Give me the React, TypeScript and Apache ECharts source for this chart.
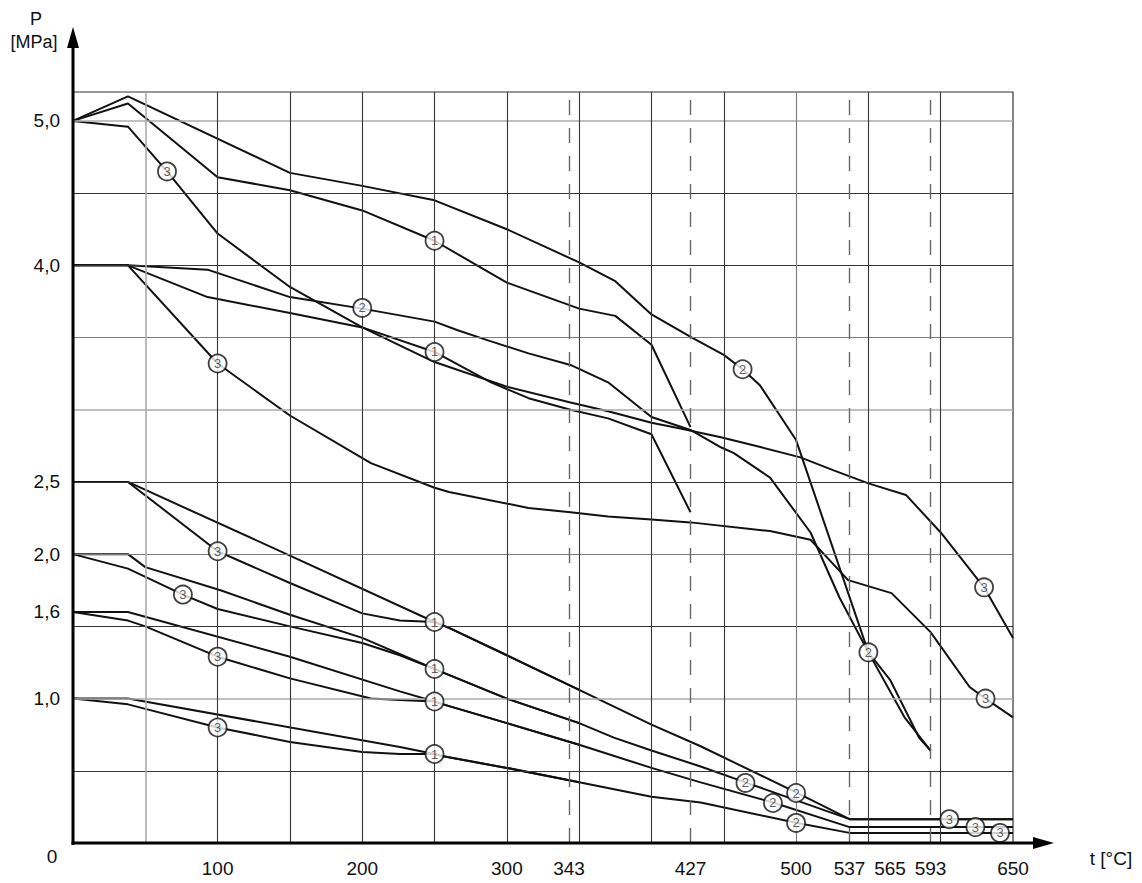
import React, { useEffect, useRef } from "react";
import * as echarts from "echarts";

// ---------- axis texts ----------
const xTickLabels = [100, 200, 300, 343, 427, 500, 537, 565, 593, 650];
const yTickLabels = [1.0, 1.6, 2.0, 2.5, 4.0, 5.0];
const dashedTemps = [343, 427, 537, 593];
const gridTemps = [50, 100, 150, 200, 250, 300, 350, 400, 450, 500, 550, 600];
const gridPressures = [0.5, 1.0, 1.5, 2.0, 2.5, 3.0, 3.5, 4.0, 4.5, 5.0];

// ---------- curves: [t °C, P MPa] ----------
const pn50Mat1 = [[0, 5.0], [38, 5.12], [100, 4.61], [150, 4.52], [200, 4.38], [250, 4.17], [300, 3.88], [350, 3.7], [375, 3.65], [400, 3.45], [427, 2.88]];
const pn50Mat2 = [[0, 5.0], [38, 5.17], [150, 4.64], [200, 4.55], [250, 4.45], [300, 4.25], [350, 4.02], [375, 3.89], [400, 3.66], [428, 3.5], [450, 3.38], [463, 3.28], [475, 3.17], [500, 2.79], [550, 1.32], [565, 1.13], [585, 0.73], [593, 0.64]];
const pn50Mat3 = [[0, 5.0], [38, 4.96], [65, 4.65], [100, 4.22], [150, 3.85], [200, 3.57], [250, 3.33], [300, 3.16], [344, 3.05], [370, 2.99], [400, 2.91], [420, 2.87], [448, 2.81], [476, 2.74], [503, 2.67], [526, 2.58], [550, 2.49], [576, 2.41], [600, 2.15], [626, 1.82], [630, 1.77], [650, 1.42]];

const pn40Mat1 = [[0, 4.0], [38, 4.0], [93, 3.78], [150, 3.67], [200, 3.57], [250, 3.4], [289, 3.19], [315, 3.08], [344, 3.0], [370, 2.94], [400, 2.83], [427, 2.29]];
const pn40Mat2 = [[0, 4.0], [38, 4.0], [93, 3.97], [150, 3.78], [200, 3.7], [250, 3.61], [266, 3.55], [287, 3.48], [315, 3.39], [344, 3.31], [370, 3.19], [400, 2.95], [427, 2.86], [448, 2.74], [457, 2.7], [482, 2.53], [510, 2.15], [530, 1.7], [550, 1.32], [575, 0.87], [593, 0.64]];
const pn40Mat3 = [[0, 4.0], [38, 4.0], [100, 3.32], [150, 2.96], [206, 2.63], [250, 2.46], [260, 2.43], [315, 2.32], [344, 2.29], [370, 2.26], [400, 2.24], [427, 2.22], [482, 2.16], [510, 2.1], [536, 1.82], [566, 1.73], [593, 1.46], [620, 1.08], [631, 1.0], [650, 0.87]];

const pn25Mat1 = [[0, 2.5], [38, 2.5], [150, 1.99], [250, 1.53], [260, 1.49], [300, 1.3], [350, 1.06], [400, 0.82], [434, 0.67], [500, 0.35], [537, 0.165], [650, 0.165]];
const pn25Mat3 = [[0, 2.5], [38, 2.5], [100, 2.02], [150, 1.8], [200, 1.59], [226, 1.54], [250, 1.53], [260, 1.49], [300, 1.3], [350, 1.06]];

const pn20Mat1 = [[0, 2.0], [38, 2.0], [50, 1.91], [102, 1.75], [150, 1.58], [200, 1.42], [250, 1.205], [256, 1.18], [300, 1.0], [350, 0.83], [374, 0.73], [400, 0.64], [434, 0.53], [465, 0.42], [537, 0.165], [650, 0.165]];
const pn20Mat3 = [[0, 2.0], [38, 1.9], [76, 1.72], [100, 1.62], [150, 1.5], [200, 1.385], [226, 1.3], [250, 1.205], [256, 1.18], [300, 1.0], [350, 0.83]];

const pn16Mat1 = [[0, 1.6], [38, 1.6], [150, 1.29], [226, 1.05], [250, 0.98], [256, 0.96], [300, 0.83], [350, 0.68], [400, 0.52], [434, 0.42], [484, 0.28], [537, 0.11], [650, 0.11]];
const pn16Mat3 = [[0, 1.6], [38, 1.54], [50, 1.5], [100, 1.29], [150, 1.14], [206, 1.0], [226, 0.99], [250, 0.98], [256, 0.96], [300, 0.83], [350, 0.68]];

const pn10Mat1 = [[0, 1.0], [38, 1.0], [226, 0.665], [250, 0.616], [256, 0.6], [300, 0.52], [350, 0.42], [400, 0.32], [434, 0.28], [500, 0.14], [537, 0.07], [650, 0.07]];
const pn10Mat3 = [[0, 1.0], [38, 0.96], [100, 0.8], [150, 0.7], [200, 0.63], [226, 0.616], [250, 0.616], [256, 0.6], [300, 0.52], [350, 0.42]];

// ---------- circled material numbers: [t °C, P MPa] ----------
const circles1 = [[250, 4.17], [250, 3.4], [250, 1.53], [250, 1.205], [250, 0.98], [250, 0.616]];
const circles2 = [[200, 3.705], [463, 3.28], [550, 1.32], [465, 0.416], [500, 0.346], [484, 0.277], [500, 0.139]];
const circles3 = [[65, 4.65], [100, 3.32], [100, 2.02], [76, 1.72], [100, 1.29], [100, 0.8], [630, 1.77], [631, 1.0], [606, 0.165], [624, 0.11], [641, 0.07]];

const curves = [
  pn50Mat1, pn50Mat2, pn50Mat3,
  pn40Mat1, pn40Mat2, pn40Mat3,
  pn25Mat1, pn25Mat3,
  pn20Mat1, pn20Mat3,
  pn16Mat1, pn16Mat3,
  pn10Mat1, pn10Mat3,
];

// grid line shading
const lightPressures = [1.0, 3.0, 5.0];
const midPressures = [2.0, 3.5];
const lightTemps = [50];
const midTemps = [500];

export default function App() {
  const ref = useRef<HTMLDivElement>(null);

  useEffect(() => {
    if (!ref.current) return;
    const chart = echarts.init(ref.current, null, { renderer: "svg" });
    const font = "'Liberation Sans', Arial, Helvetica, sans-serif";
    const dark = "#353535";
    const mid = "#7c7c7c";
    const light = "#ababab";

    const hLines = gridPressures.map((p) => ({
      yAxis: p,
      lineStyle: {
        color: lightPressures.includes(p) ? light : midPressures.includes(p) ? mid : dark,
        width: lightPressures.includes(p) ? 1.6 : 1.1,
        type: "solid",
      },
    }));
    const vLines = gridTemps.map((t) => ({
      xAxis: t,
      lineStyle: {
        color: lightTemps.includes(t) ? light : midTemps.includes(t) ? mid : dark,
        width: lightTemps.includes(t) ? 1.6 : 1.1,
        type: "solid",
      },
    }));
    const dLines = dashedTemps.map((t) => ({
      xAxis: t,
      lineStyle: { color: "#666", width: 1.4, type: [15, 13] },
    }));

    const markerData = [
      ...circles1.map(([t, p]) => [t, p, "1"]),
      ...circles2.map(([t, p]) => [t, p, "2"]),
      ...circles3.map(([t, p]) => [t, p, "3"]),
    ];

    const option: any = {
      animation: false,
      grid: {
        left: 73,
        top: 92,
        right: 129,
        bottom: 40,
        show: true,
        borderColor: "#333",
        borderWidth: 1.2,
        backgroundColor: "transparent",
        containLabel: false,
        outerBoundsMode: "none",
      },
      xAxis: {
        type: "value",
        min: 0,
        max: 650,
        interval: 50,
        axisLine: { show: false },
        axisTick: { show: false },
        splitLine: { show: false },
        axisLabel: {
          customValues: xTickLabels,
          margin: 16,
          fontSize: 19,
          color: "#111",
          fontFamily: font,
          formatter: (v: number) => String(v),
        },
      },
      yAxis: {
        type: "value",
        min: 0,
        max: 5.2,
        interval: 0.5,
        axisLine: { show: false },
        axisTick: { show: false },
        splitLine: { show: false },
        axisLabel: {
          customValues: yTickLabels,
          margin: 13,
          fontSize: 19,
          color: "#111",
          fontFamily: font,
          formatter: (v: number) => Number(v).toFixed(1).replace(".", ","),
        },
      },
      graphic: [
        { type: "line", z: 100, shape: { x1: 73, y1: 845, x2: 73, y2: 44 }, style: { stroke: "#000", lineWidth: 3 } },
        { type: "polygon", z: 100, shape: { points: [[73, 27], [67, 48], [79, 48]] }, style: { fill: "#000" } },
        { type: "line", z: 100, shape: { x1: 71.5, y1: 843, x2: 1036, y2: 843 }, style: { stroke: "#000", lineWidth: 3 } },
        { type: "polygon", z: 100, shape: { points: [[1054, 843], [1033, 837], [1033, 849]] }, style: { fill: "#000" } },
        { type: "text", z: 100, style: { text: "P", x: 36, y: 19, fontSize: 18, fill: "#111", fontFamily: font, align: "center", verticalAlign: "middle" } },
        { type: "text", z: 100, style: { text: "[MPa]", x: 34, y: 42, fontSize: 18, fill: "#111", fontFamily: font, align: "center", verticalAlign: "middle" } },
        { type: "text", z: 100, style: { text: "t [°C]", x: 1111, y: 858, fontSize: 19, fill: "#111", fontFamily: font, align: "center", verticalAlign: "middle" } },
        { type: "text", z: 100, style: { text: "0", x: 52, y: 856, fontSize: 19, fill: "#111", fontFamily: font, align: "center", verticalAlign: "middle" } },
      ],
      series: [
        {
          type: "line",
          z: 1,
          data: [],
          silent: true,
          markLine: {
            silent: true,
            symbol: ["none", "none"],
            label: { show: false },
            animation: false,
            data: [...hLines, ...vLines, ...dLines],
          },
        },
        ...curves.map((c) => ({
          type: "line",
          z: 3,
          data: c,
          symbol: "none",
          silent: true,
          lineStyle: { color: "#111", width: 2 },
        })),
        {
          type: "scatter",
          z: 10,
          symbol: "circle",
          symbolSize: 18,
          silent: true,
          itemStyle: { color: "#fff", borderColor: "#111", borderWidth: 1.8 },
          label: {
            show: true,
            position: "inside",
            formatter: (p: any) => p.value[2],
            fontSize: 13,
            color: "#333",
            fontFamily: font,
          },
          data: markerData,
        },
      ],
    };

    chart.setOption(option);
    return () => chart.dispose();
  }, []);

  return (
    <div
      ref={ref}
      style={{ position: "fixed", left: 0, top: 0, width: 1142, height: 883, background: "#fff" }}
    />
  );
}
